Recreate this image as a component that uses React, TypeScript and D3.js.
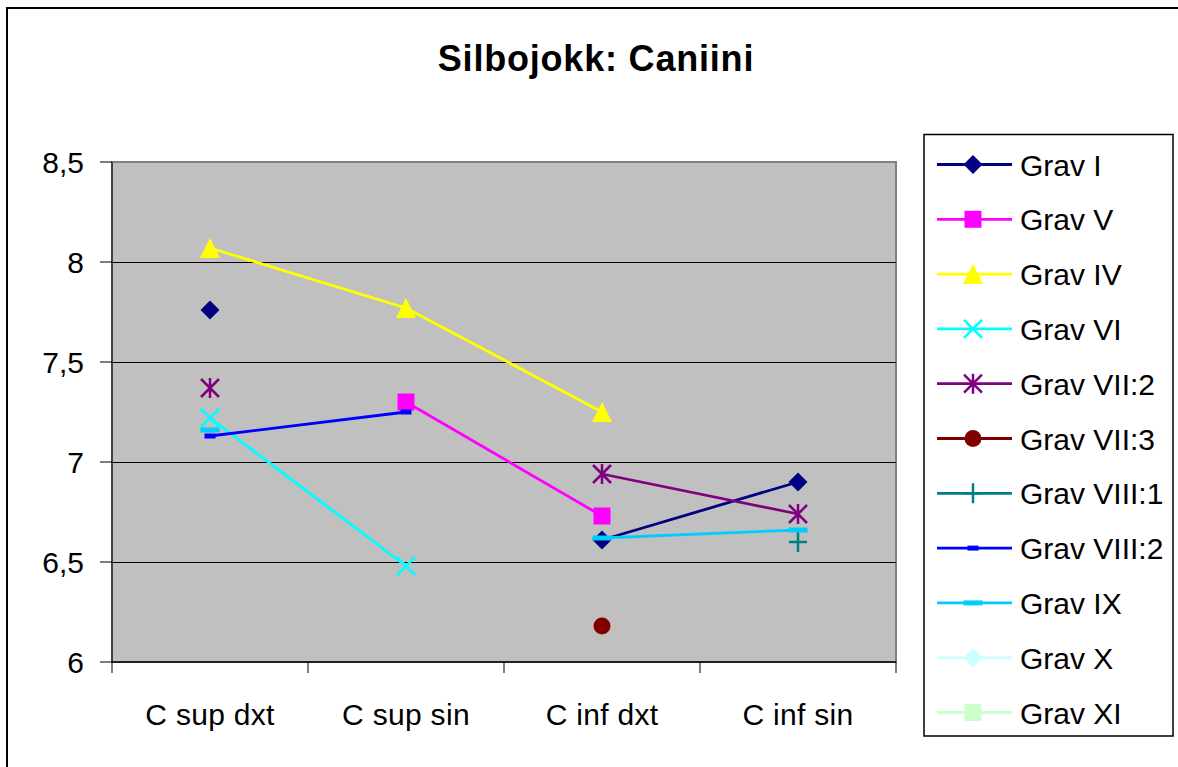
import React from "react";
import * as d3 from "d3";

const categories = ["C sup dxt", "C sup sin", "C inf dxt", "C inf sin"];

const seriesNames = [
  "Grav I", "Grav V", "Grav IV", "Grav VI", "Grav VII:2", "Grav VII:3",
  "Grav VIII:1", "Grav VIII:2", "Grav IX", "Grav X", "Grav XI",
];

// one row per series, null = no measurement
const gravI = [7.76, null, 6.61, 6.9];
const gravV = [null, 7.3, 6.73, null];
const gravIV = [8.07, 7.77, 7.25, null];
const gravVI = [7.22, 6.48, null, null];
const gravVII2 = [7.37, null, 6.94, 6.74];
const gravVII3 = [null, null, 6.18, null];
const gravVIII1 = [null, null, null, 6.6];
const gravVIII2 = [7.13, 7.25, null, null];
const gravIX = [7.16, null, 6.62, 6.66];
const gravX = [null, null, null, null];
const gravXI = [null, null, null, null];

const yTicks = [6, 6.5, 7, 7.5, 8, 8.5];

const seriesValues = [gravI, gravV, gravIV, gravVI, gravVII2, gravVII3, gravVIII1, gravVIII2, gravIX, gravX, gravXI];
const colors = ["#000080", "#FF00FF", "#FFFF00", "#00FFFF", "#800080", "#800000", "#008080", "#0000FF", "#00CCFF", "#CCFFFF", "#CCFFCC"];
const markers = ["diamond", "square", "triangle", "x", "star", "circle", "plus", "dashSmall", "dash", "diamond", "square"];

const width = 1178;
const height = 767;
const plot = { left: 112, right: 896, top: 162, bottom: 662 };
const font = "'Liberation Sans', Arial, sans-serif";

const x = d3.scaleBand().domain(categories).range([plot.left, plot.right]);
const y = d3.scaleLinear().domain([6, 8.5]).range([plot.bottom, plot.top]);
const fmt = d3.formatLocale({ decimal: ",", thousands: " ", grouping: [3], currency: ["", ""] }).format("~g");

const Marker = ({ type, color, cx, cy }: { type: string; color: string; cx: number; cy: number }) => {
  const t = `translate(${cx},${cy})`;
  switch (type) {
    case "diamond":
      return <path transform={t} d="M0,-9.5L9.5,0L0,9.5L-9.5,0Z" fill={color} />;
    case "square":
      return <rect transform={t} x={-8.5} y={-8.5} width={17} height={17} fill={color} />;
    case "triangle":
      return <path transform={t} d="M0,-10L10,10L-10,10Z" fill={color} />;
    case "circle":
      return <circle transform={t} r={8.5} fill={color} />;
    case "x":
      return <path transform={t} d="M-9,-9L9,9M9,-9L-9,9" stroke={color} strokeWidth={2.5} fill="none" />;
    case "star":
      return <path transform={t} d="M-9,-9L9,9M9,-9L-9,9M0,-10L0,10" stroke={color} strokeWidth={2.5} fill="none" />;
    case "plus":
      return <path transform={t} d="M-9,0L9,0M0,-10L0,10" stroke={color} strokeWidth={2.5} fill="none" />;
    case "dashSmall":
      return <rect transform={t} x={-5.5} y={-2.5} width={11} height={5} fill={color} />;
    case "dash":
      return <rect transform={t} x={-9.5} y={-2.5} width={19} height={5} fill={color} />;
    default:
      return null;
  }
};

const App = () => {
  const cx = (i: number) => (x(categories[i]) as number) + x.bandwidth() / 2;
  const line = d3
    .line<number | null>()
    .defined((d) => d != null)
    .x((_, i) => cx(i))
    .y((d) => y(d as number));

  const bounds = d3.range(categories.length + 1).map((i) => plot.left + i * x.bandwidth());

  return (
    <svg
      width={width}
      height={height}
      style={{ position: "absolute", left: 0, top: 0, background: "#fff", fontFamily: font }}
    >
      <rect x={7} y={8} width={1300} height={900} fill="#fff" stroke="#000" strokeWidth={2} />

      <text x={596} y={71} textAnchor="middle" fontSize={36} fontWeight="bold" letterSpacing={0.8}>
        Silbojokk: Caniini
      </text>

      {/* plot area */}
      <rect x={plot.left} y={plot.top} width={plot.right - plot.left} height={plot.bottom - plot.top} fill="#C0C0C0" stroke="#808080" strokeWidth={2} />
      {yTicks.slice(1, -1).map((t) => (
        <line key={t} x1={plot.left} x2={plot.right} y1={y(t) + 0.5} y2={y(t) + 0.5} stroke="#000" strokeWidth={1} />
      ))}
      <line x1={plot.left} x2={plot.left} y1={plot.top} y2={plot.bottom} stroke="#000" strokeWidth={1} />
      <line x1={plot.left} x2={plot.right} y1={plot.bottom} y2={plot.bottom} stroke="#000" strokeWidth={1.5} />

      {/* y axis */}
      {yTicks.map((t) => (
        <g key={t}>
          <line x1={100} x2={plot.left} y1={y(t)} y2={y(t)} stroke="#000" strokeWidth={1} />
          <text x={84} y={y(t) + 11} textAnchor="end" fontSize={30}>
            {fmt(t)}
          </text>
        </g>
      ))}

      {/* x axis */}
      {bounds.map((b) => (
        <line key={b} x1={b} x2={b} y1={plot.bottom} y2={plot.bottom + 11} stroke="#000" strokeWidth={1} />
      ))}
      {categories.map((c, i) => (
        <text key={c} x={cx(i)} y={725} textAnchor="middle" fontSize={30} letterSpacing={0.3}>
          {c}
        </text>
      ))}

      {/* series */}
      {seriesValues.map((vals, s) => (
        <g key={seriesNames[s]}>
          <path d={line(vals) || ""} fill="none" stroke={colors[s]} strokeWidth={2.8} />
          {vals.map((v, i) =>
            v == null ? null : <Marker key={i} type={markers[s]} color={colors[s]} cx={cx(i)} cy={y(v)} />
          )}
        </g>
      ))}

      {/* legend */}
      <rect x={924} y={134.5} width={249} height={601.5} fill="#fff" stroke="#000" strokeWidth={1.5} />
      {seriesNames.map((n, s) => {
        const ly = 164.5 + s * 54.8;
        return (
          <g key={n}>
            <line x1={937} x2={1012} y1={ly} y2={ly} stroke={colors[s]} strokeWidth={2.8} />
            <Marker type={markers[s]} color={colors[s]} cx={973} cy={ly} />
            <text x={1020} y={ly + 11} fontSize={30}>
              {n}
            </text>
          </g>
        );
      })}
    </svg>
  );
};

export default App;
